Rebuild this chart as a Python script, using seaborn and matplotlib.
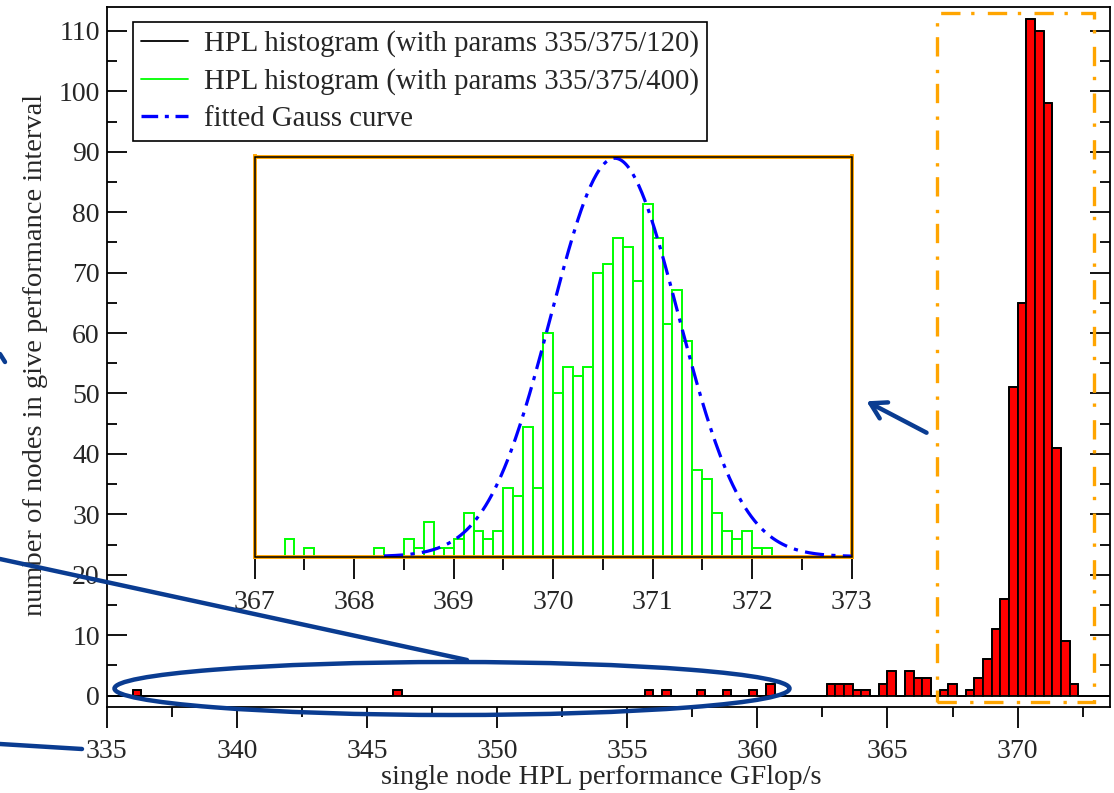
import numpy as np
import pandas as pd
import matplotlib
matplotlib.use("Agg")
import matplotlib.pyplot as plt
import seaborn as sns
from matplotlib.patches import Rectangle, Ellipse, FancyArrowPatch
from matplotlib.lines import Line2D
from matplotlib.ticker import MultipleLocator

# ---------------- data ----------------
# histogram 1: params 335/375/120 -> bin width 1/3 GFlop/s
red_lo, red_hi, red_nbins = 335.0, 375.0, 120
red_bin_index = [3, 33, 62, 64, 68, 71, 74, 76, 83, 84, 85, 86, 87, 89, 90, 92, 93, 94,
                 96, 97, 99, 100, 101, 102, 103, 104, 105, 106, 107, 108, 109, 110, 111]
red_counts = [1, 1, 1, 1, 1, 1, 1, 2, 2, 2, 2, 1, 1, 2, 4, 4, 3, 3,
              1, 2, 1, 3, 6, 11, 16, 51, 65, 112, 110, 98, 41, 9, 2]

# histogram 2: params 335/375/400 -> bin width 0.1 GFlop/s (inset, from 367.0 on)
green_lo, green_hi, green_nbins = 335.0, 375.0, 400
green_first_bin = 367.0
green_counts = [0, 0, 0, 2, 0, 1, 0, 0, 0, 0, 0, 0, 1, 0, 0, 2, 1, 4, 1, 1,
                2, 5, 3, 2, 3, 8, 7, 15, 8, 26, 19, 22, 21, 22, 33, 34, 37, 36, 32, 41,
                37, 27, 31, 25, 10, 9, 5, 3, 2, 3, 1, 1]

# fitted Gauss curve parameters (inset scale)
gauss_mu, gauss_sigma, gauss_amp = 370.62, 0.64, 46.3
gauss_from, gauss_to = 368.3, 373.0

x_ticks_main = [335, 340, 345, 350, 355, 360, 365, 370]
y_ticks_main = list(range(0, 111, 10))
x_ticks_inset = [367, 368, 369, 370, 371, 372, 373]

legend_labels = ["HPL histogram (with params 335/375/120)",
                 "HPL histogram (with params 335/375/400)",
                 "fitted Gauss curve"]
xlabel = "single node HPL performance GFlop/s"
ylabel = "number of nodes in give performance interval"

# ---------------- build frames ----------------
red_w = (red_hi - red_lo) / red_nbins
red_df = pd.DataFrame({
    "perf": [red_lo + (i + 0.5) * red_w for i in red_bin_index],
    "n": red_counts,
})

green_w = (green_hi - green_lo) / green_nbins
green_df = pd.DataFrame({
    "perf": [green_first_bin + (i + 0.5) * green_w for i in range(len(green_counts))],
    "n": green_counts,
})

gx = np.linspace(gauss_from, gauss_to, 300)
gauss_df = pd.DataFrame({"perf": gx,
                         "n": gauss_amp * np.exp(-0.5 * ((gx - gauss_mu) / gauss_sigma) ** 2)})

# ---------------- style ----------------
sns.set_theme(style="white")
plt.rcParams['font.family'] = ['Liberation Serif', 'DejaVu Serif']
plt.rcParams['axes.linewidth'] = 1.3

W, H = 1114, 793
fig = plt.figure(figsize=(W / 100, H / 100), dpi=100)
fig.patch.set_facecolor("white")

def fx(px):
    return px / W

def fy(py):
    return 1 - py / H

TICK_FS = 20
LABEL_FS = 20.5
LEG_FS = 20.7
TXT = "#262626"

ax = fig.add_axes([fx(106.7), fy(707.3), fx(1110) - fx(106.7), fy(6.7) - fy(707.3)])
ax.set_facecolor("white")

sns.histplot(data=red_df, x="perf", weights="n", binwidth=red_w, binrange=(red_lo, red_hi),
             stat="count", color="#ff0000", edgecolor="black", linewidth=1.3, alpha=1,
             ax=ax, zorder=2)
sns.histplot(data=red_df, x="perf", weights="n", binwidth=red_w, binrange=(red_lo, red_hi),
             stat="count", element="step", fill=False, color="black", linewidth=1.3,
             ax=ax, zorder=3)

ax.set_xlim(335, 373.55)
ax.set_ylim(-1.93, 114)
ax.set_xticks(x_ticks_main)
ax.set_yticks(y_ticks_main)
ax.xaxis.set_minor_locator(MultipleLocator(2.5))
ax.yaxis.set_minor_locator(MultipleLocator(5))
ax.tick_params(axis="x", which="both", direction="out", bottom=True, top=False,
               labelsize=TICK_FS, colors="black", labelcolor=TXT, width=1.3, pad=7.5)
ax.tick_params(axis="x", which="major", length=15)
ax.tick_params(axis="x", which="minor", length=7)
ax.tick_params(axis="y", which="both", direction="in", left=True, right=True,
               labelsize=TICK_FS, colors="black", labelcolor=TXT, width=1.3, pad=5)
ax.tick_params(axis="y", which="major", length=14.5)
ax.tick_params(axis="y", which="minor", length=7.5)
for s in ax.spines.values():
    s.set_color("black")
    s.set_linewidth(1.3)

ax.set_xlabel(xlabel, fontsize=LABEL_FS, color=TXT)
ax.set_ylabel(ylabel, fontsize=LABEL_FS, color=TXT)
ax.xaxis.set_label_coords((601 - 106.7) / 1003.3, (707.3 - 765) / 700.6)
ax.yaxis.set_label_coords((48 - 106.7) / 1003.3, (707.3 - 355) / 700.6)

# zoom frame (orange dash-dot)
ax.add_patch(Rectangle((366.9, -1.0), 372.95 - 366.9, 113.0 + 1.0, fill=False,
                       edgecolor="#ffa500", linewidth=2.4,
                       linestyle=(0, (5.8, 4.0, 1.0, 3.2)), zorder=4, clip_on=False))

handles = [Line2D([], [], color="black", lw=1.3),
           Line2D([], [], color="#00ff00", lw=1.3),
           Line2D([], [], color="#0000ff", lw=2.4, linestyle=(0, (5, 2.0, 1.2, 2.0)))]
leg = ax.legend(handles, legend_labels, loc="upper left",
                bbox_to_anchor=((133 - 106.7) / 1003.3, (707.3 - 22) / 700.6),
                borderaxespad=0, fontsize=LEG_FS, frameon=True, fancybox=False,
                framealpha=1, edgecolor="black", handlelength=1.65, handletextpad=0.55,
                labelspacing=0.39, borderpad=0.28)
leg.get_frame().set_linewidth(1.2)
for t in leg.get_texts():
    t.set_color(TXT)

# ---------------- inset ----------------
axin = fig.add_axes([fx(254.7), fy(556.5), fx(851.5) - fx(254.7), fy(156.5) - fy(556.5)])
axin.set_facecolor("white")
sns.histplot(data=green_df, x="perf", weights="n", binwidth=green_w,
             binrange=(green_lo, green_hi), stat="count",
             fill=False, element="bars", color="#00ff00", linewidth=1.4, ax=axin, zorder=2)
sns.lineplot(data=gauss_df, x="perf", y="n", color="#0000ff", linewidth=2.3,
             linestyle=(0, (6, 2.3, 1.3, 2.3)), ax=axin, zorder=3)
axin.set_xlim(367, 373)
axin.set_ylim(0, 46.5)
axin.set_xticks(x_ticks_inset)
axin.xaxis.set_minor_locator(MultipleLocator(0.5))
axin.set_yticks([])
axin.set_xlabel("")
axin.set_ylabel("")
axin.tick_params(axis="x", which="both", direction="out", bottom=True, top=False,
                 labelsize=TICK_FS, colors="black", labelcolor=TXT, width=1.3, pad=8.5)
axin.tick_params(axis="x", which="major", length=15.5)
axin.tick_params(axis="x", which="minor", length=9)
for s in axin.spines.values():
    s.set_color("#ffa500")
    s.set_linewidth(2.8)
axin.add_patch(Rectangle((0, 0), 1, 1, transform=axin.transAxes, fill=False,
                         edgecolor="black", linewidth=1.1, zorder=5, clip_on=False))

# ---------------- blue annotations (figure pixel positions) ----------------
ann = "#0a3c91"
fig.add_artist(Ellipse((fx(452), fy(688.5)), fx(675), 53 / H, fill=False,
                       edgecolor=ann, linewidth=3.2, transform=fig.transFigure, zorder=10))
fig.add_artist(Line2D([fx(0), fx(467)], [fy(559), fy(660)], color=ann, lw=3.2,
                      transform=fig.transFigure, zorder=10))
fig.add_artist(Line2D([fx(0), fx(82)], [fy(744), fy(749)], color=ann, lw=3.2,
                      transform=fig.transFigure, zorder=10))
fig.add_artist(Line2D([fx(0), fx(5)], [fy(354), fy(362)], color=ann, lw=3.2,
                      transform=fig.transFigure, zorder=10))
fig.add_artist(FancyArrowPatch((fx(929), fy(434)), (fx(864), fy(400)),
                               transform=fig.transFigure,
                               arrowstyle="->,head_length=11,head_width=6.5",
                               color=ann, lw=3.2, zorder=10))

fig.savefig("out.png", dpi=100, facecolor="white")
